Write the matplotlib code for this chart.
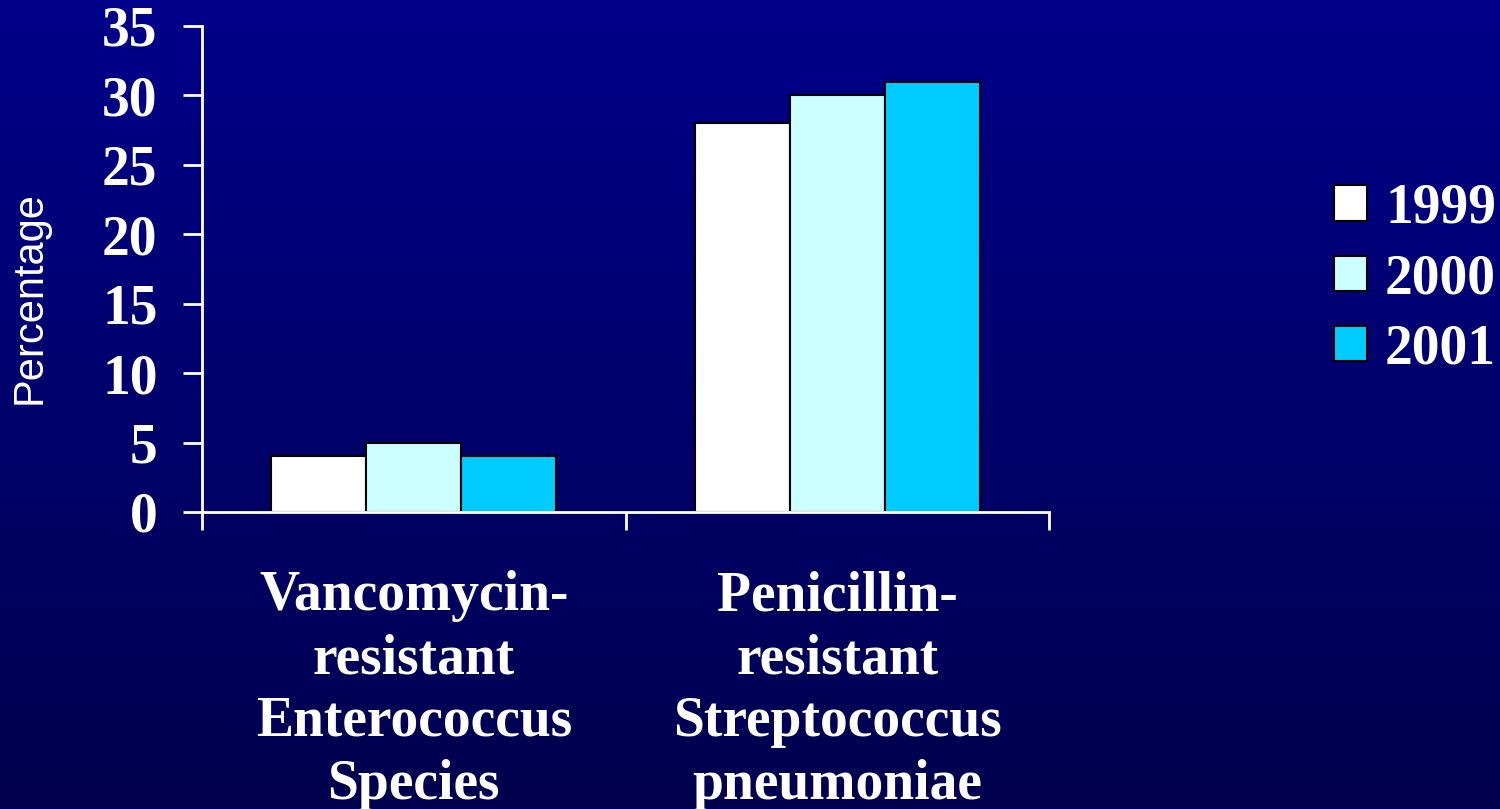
import numpy as np
import matplotlib
matplotlib.use("Agg")
import matplotlib.pyplot as plt
from matplotlib.patches import Patch

# resistance rates by organism and year
categories = ["Vancomycin-\nresistant\nEnterococcus\nSpecies",
              "Penicillin-\nresistant\nStreptococcus\npneumoniae"]
years = ["1999", "2000", "2001"]
values_1999 = [4, 28]
values_2000 = [5, 30]
values_2001 = [4, 31]
bar_colors = ["#FFFFFF", "#CCFFFF", "#00CCFF"]

serif = "Liberation Serif"

fig = plt.figure(figsize=(15, 8.09), dpi=100)

# dark blue background fading downward
bg = fig.add_axes([0, 0, 1, 1], zorder=-1)
top = np.array([0, 0, 138]) / 255.0
bottom = np.array([0, 0, 78]) / 255.0
t = np.linspace(0, 1, 256)[:, None]
grad = (top[None, :] * (1 - t) + bottom[None, :] * t)[:, None, :]
bg.imshow(grad, aspect="auto", extent=[0, 1, 0, 1], origin="upper")
bg.axis("off")

ax = fig.add_axes([202 / 1500, 297 / 809, 847 / 1500, 486 / 809])
ax.patch.set_visible(False)

x = np.arange(len(categories))
w = 0.2245
series = [values_1999, values_2000, values_2001]
for i, (vals, col) in enumerate(zip(series, bar_colors)):
    ax.bar(x + (i - 1) * w, vals, width=w, color=col, edgecolor="black",
           linewidth=1.5, label=years[i], zorder=2)

ax.set_xlim(-0.5, 1.5)
ax.set_ylim(0, 35)
ax.set_yticks(range(0, 36, 5))

for s in ["top", "right"]:
    ax.spines[s].set_visible(False)
for s in ["left", "bottom"]:
    ax.spines[s].set_color("white")
    ax.spines[s].set_linewidth(2)

ax.tick_params(axis="y", colors="white", length=14, width=2, pad=18)
for lab in ax.get_yticklabels():
    lab.set_fontfamily(serif)
    lab.set_fontweight("bold")
    lab.set_fontsize(40)

# group separators as major ticks, category names as minor ticks
ax.set_xticks([-0.5, 0.5, 1.5])
ax.set_xticklabels([])
ax.tick_params(axis="x", which="major", colors="white", length=13, width=2)
ax.set_xticks(x, minor=True)
ax.set_xticklabels(categories, minor=True, fontfamily=serif, fontweight="bold",
                   fontsize=40, color="white", linespacing=1.27)
ax.tick_params(axis="x", which="minor", length=0, pad=42)

ax.set_ylabel("Percentage", fontfamily="Liberation Sans", fontsize=30,
              color="white")
ax.yaxis.set_label_coords((50 - 202) / 847, (512 - 298) / 486)

handles = [Patch(facecolor=c, edgecolor="black", linewidth=1.5) for c in bar_colors]
leg = fig.legend(handles, years, loc="center left",
                 bbox_to_anchor=(1284 / 1500, 1 - 279 / 809), frameon=False,
                 prop={"family": serif, "weight": "bold", "size": 40},
                 handlelength=0.6, handleheight=0.6, handletextpad=0.32,
                 labelspacing=0.33)
for txt in leg.get_texts():
    txt.set_color("white")

fig.savefig("out.png", dpi=100)
